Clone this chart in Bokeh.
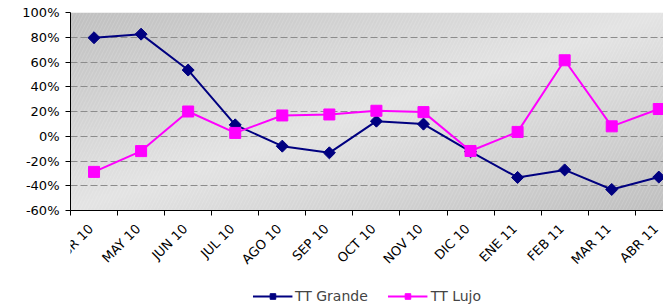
from math import pi
import numpy as np
from bokeh.plotting import figure
from bokeh.layouts import column
from bokeh.core.properties import value
from bokeh.models import (FixedTicker, PrintfTickFormatter, Legend, LegendItem,
                          Range1d, ColumnDataSource)
from bokeh.embed import file_html
from bokeh.resources import INLINE

months = ["ABR 10", "MAY 10", "JUN 10", "JUL 10", "AGO 10", "SEP 10", "OCT 10",
          "NOV 10", "DIC 10", "ENE 11", "FEB 11", "MAR 11", "ABR 11"]
tt_grande = [79.6, 82.5, 53.5, 9.2, -8.0, -13.4, 12.2, 9.8, -12.5, -33.3, -27.2, -43.0, -33.0]
tt_lujo = [-28.8, -12.0, 20.0, 2.7, 16.8, 17.6, 20.6, 19.5, -11.9, 3.5, 61.4, 8.0, 22.0]
y_ticks = [-60, -40, -20, 0, 20, 40, 60, 80, 100]

xs = list(range(len(months)))
src = ColumnDataSource(dict(x=xs, g=tt_grande, l=tt_lujo))

FONT = "DejaVu Sans"

p = figure(width=663, height=220, output_backend="svg", toolbar_location=None,
           x_range=Range1d(-0.5, 12.1), y_range=Range1d(-60, 100),
           min_border_left=70, min_border_right=0, min_border_top=12,
           min_border_bottom=10)
p.outline_line_color = None
p.background_fill_color = "white"
p.border_fill_color = "white"

# gradient background
x0, x1 = p.x_range.start, p.x_range.end
y0, y1 = p.y_range.start, p.y_range.end
nx, ny = 200, 80
xn = np.linspace(0, 1, nx)[None, :]
yn = np.linspace(0, 1, ny)[:, None]
s = np.abs(xn - yn)
v = (228 - 36 * s).astype(np.uint32)
img = (255 << 24) | (v << 16) | (v << 8) | v
p.image_rgba(image=[img.astype(np.uint32)], x=x0, y=y0, dw=x1 - x0, dh=y1 - y0, level="image")
p.quad(left=[x0], right=[x1], bottom=[y0], top=[y1], fill_alpha=0, line_color=None,
       hatch_pattern="/", hatch_color="white", hatch_alpha=0.25, hatch_scale=7,
       hatch_weight=0.6, level="image")

# grid
p.xgrid.grid_line_color = None
p.ygrid.ticker = FixedTicker(ticks=y_ticks)
p.ygrid.grid_line_color = "#8c8c8c"
p.ygrid.grid_line_dash = "7 3"
p.ygrid.grid_line_width = 1

# series
lg = p.line("x", "g", source=src, line_color="#000080", line_width=2)
sg = p.scatter("x", "g", source=src, marker="square", angle=pi / 4, size=8.5,
               fill_color="#000080", line_color="#000080")
ll = p.line("x", "l", source=src, line_color="#ff00ff", line_width=2)
sl = p.scatter("x", "l", source=src, marker="square", size=11,
               fill_color="#ff00ff", line_color="#ff00ff")

# x axis: ticks between categories; month labels drawn in a strip below
xa = p.xaxis[0]
xa.ticker = FixedTicker(ticks=xs, minor_ticks=[i - 0.5 for i in range(len(months) + 1)])
xa.major_label_overrides = {i: "" for i in xs}
xa.major_label_text_font_size = "1px"
xa.major_label_standoff = 0
xa.major_tick_line_color = None
xa.minor_tick_line_color = "black"
xa.minor_tick_out = 5
xa.minor_tick_in = 0
xa.axis_line_color = "black"

ya = p.yaxis[0]
ya.ticker = FixedTicker(ticks=y_ticks)
ya.formatter = PrintfTickFormatter(format="%d%%")
ya.major_tick_out = 5
ya.major_tick_in = 0
ya.major_tick_line_color = "black"
ya.minor_tick_line_color = None
ya.major_label_text_font = FONT
ya.major_label_text_font_size = "13px"
ya.major_label_text_color = "black"
ya.axis_line_color = "black"
ya.major_label_standoff = 6

# month-label strip sharing the x range
STRIP_H = 66
p3 = figure(width=663, height=STRIP_H, output_backend="svg", toolbar_location=None,
            x_axis_type=None, y_axis_type=None,
            x_range=p.x_range, y_range=Range1d(0, STRIP_H),
            min_border_left=70, min_border_right=0, min_border_top=0,
            min_border_bottom=0)
p3.outline_line_color = None
p3.grid.visible = False
p3.border_fill_color = "white"
p3.background_fill_color = "white"
lab_src = ColumnDataSource(dict(x=xs, y=[STRIP_H - 6] * len(xs), text=months))
p3.text(x="x", y="y", text="text", source=lab_src, angle=pi / 4,
        text_align="right", text_baseline="middle", x_offset=-3,
        text_font=value(FONT), text_font_size=value("13px"), text_color="black")

# legend strip
p2 = figure(width=663, height=19, output_backend="svg", toolbar_location=None,
            x_axis_type=None, y_axis_type=None,
            x_range=Range1d(0, 1), y_range=Range1d(0, 1),
            min_border_left=24, min_border_right=0, min_border_top=0,
            min_border_bottom=0)
p2.outline_line_color = None
p2.grid.visible = False
p2.border_fill_color = "white"
p2.background_fill_color = "white"
dummy = ColumnDataSource(dict(x=[5, 6], y=[5, 6]))
lg2 = p2.line("x", "y", source=dummy, line_color="#000080", line_width=2)
sg2 = p2.scatter("x", "y", source=dummy, marker="square", angle=pi / 4, size=8.5,
                 fill_color="#000080", line_color="#000080")
ll2 = p2.line("x", "y", source=dummy, line_color="#ff00ff", line_width=2)
sl2 = p2.scatter("x", "y", source=dummy, marker="square", size=11,
                 fill_color="#ff00ff", line_color="#ff00ff")

legend = Legend(items=[LegendItem(label="TT Grande", renderers=[lg2, sg2]),
                       LegendItem(label="TT Lujo", renderers=[ll2, sl2])],
                orientation="horizontal", location="center")
legend.border_line_color = None
legend.background_fill_alpha = 0
legend.label_text_font = FONT
legend.label_text_font_size = "14px"
legend.glyph_width = 40
legend.glyph_height = 14
legend.label_height = 14
legend.label_standoff = 3
legend.spacing = 20
legend.padding = 1
legend.margin = 0
p2.add_layout(legend, "center")

layout = column(p, p3, p2, spacing=0)
open("out.html", "w").write(file_html(layout, INLINE))
